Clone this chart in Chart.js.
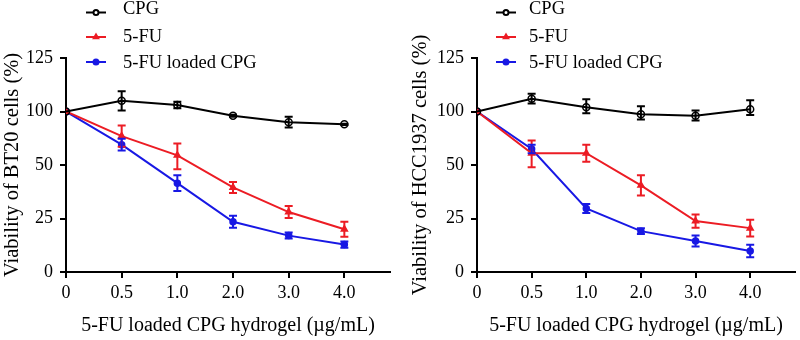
<!DOCTYPE html>
<html>
<head>
<meta charset="utf-8">
<script src="https://cdn.jsdelivr.net/npm/chart.js@4.4.0/dist/chart.umd.min.js"></script>
<style>
  body { margin: 0; background: #fff; }
  .wrap { display: flex; width: 800px; height: 340px; }
  .wrap canvas { display: block; }
</style>
</head>
<body>
<div class="wrap">
  <canvas id="bt20chart" width="400" height="340"></canvas>
  <canvas id="hccchart" width="400" height="340"></canvas>
</div>
<script>
// doses (µg/mL), plotted at equal spacing
const doses = ["0", "0.5", "1.0", "2.0", "3.0", "4.0"];
// y axis is broken: these ticks sit at equal distances
const yTicks = [0, 25, 50, 100, 125];

const seriesNames = ["CPG", "5-FU", "5-FU loaded CPG"];

// BT20
const bt20Cpg = [100, 105, 103, 96, 90, 88];
const bt20CpgErr = [0, 4.5, 1.5, 1, 5, 0.5];
const bt20Fu = [100, 77, 59, 39.5, 28, 20];
const bt20FuErr = [0, 10, 11, 2.6, 2.8, 3.5];
const bt20Loaded = [100, 69, 41.5, 23.5, 17, 12.8];
const bt20LoadedErr = [0, 5.5, 3.7, 2.8, 1.4, 1.5];

// HCC1937
const hccCpg = [100, 106, 102, 97.5, 96, 101];
const hccCpgErr = [0, 2.3, 3.7, 5, 4.5, 4.2];
const hccFu = [100, 61, 61, 40.5, 23.8, 20.5];
const hccFuErr = [0, 12, 8, 4.7, 3.1, 3.9];
const hccLoaded = [100, 65, 29.7, 19.1, 14.5, 9.8];
const hccLoadedErr = [0, 4, 2.1, 1.3, 2.6, 2.9];

const RED = "rgb(236,28,36)";
const BLUE = "rgb(24,24,228)";
const FONT = "'Liberation Serif', 'Times New Roman', serif";

Chart.defaults.font.family = FONT;
Chart.defaults.color = "#000";

// linear scale with a piecewise mapping so each yTicks step has the same height
class BrokenScale extends Chart.LinearScale {
    buildTicks() {
        return yTicks.map(v => ({ value: v }));
    }
    getPixelForValue(value) {
        const n = yTicks.length - 1;
        let i = 0;
        while (i < n - 1 && value > yTicks[i + 1]) i++;
        const f = (i + (value - yTicks[i]) / (yTicks[i + 1] - yTicks[i])) / n;
        return this.getPixelForDecimal(f);
    }
    getValueForPixel(pixel) {
        const n = yTicks.length - 1;
        const d = this.getDecimalForPixel(pixel) * n;
        const i = Math.min(n - 1, Math.max(0, Math.floor(d)));
        return yTicks[i] + (d - i) * (yTicks[i + 1] - yTicks[i]);
    }
}
BrokenScale.id = "broken";
BrokenScale.defaults = Chart.LinearScale.defaults;
Chart.register(BrokenScale);

const pointStyles = [
    { pointStyle: "circle", radius: 3.5, bg: "transparent" },
    { pointStyle: "triangle", radius: 3.5, bg: null },
    { pointStyle: "circle", radius: 3, bg: null }
];
const colors = ["#000", RED, BLUE];

const errorBars = {
    id: "errorBars",
    afterDatasetsDraw(chart) {
        const ctx = chart.ctx;
        const yScale = chart.scales.y;
        chart.data.datasets.forEach((ds, di) => {
            const meta = chart.getDatasetMeta(di);
            ctx.save();
            ctx.strokeStyle = ds.borderColor;
            ctx.lineWidth = 2;
            meta.data.forEach((pt, i) => {
                const e = ds.errors[i];
                if (!e) return;
                const v = ds.data[i].y;
                const top = yScale.getPixelForValue(v + e);
                const bot = yScale.getPixelForValue(v - e);
                ctx.beginPath();
                ctx.moveTo(pt.x, top); ctx.lineTo(pt.x, bot);
                ctx.moveTo(pt.x - 4, top); ctx.lineTo(pt.x + 4, top);
                ctx.moveTo(pt.x - 4, bot); ctx.lineTo(pt.x + 4, bot);
                ctx.stroke();
            });
            ctx.restore();
        });
    }
};

// legend drawn over the top of the plot, like the original figure
const overlayLegend = {
    id: "overlayLegend",
    afterDraw(chart, args, opts) {
        const ctx = chart.ctx;
        const lineY = [12.5, 37, 62];
        const textY = [14, 41.5, 68];
        ctx.save();
        ctx.font = "18.5px " + FONT;
        ctx.textBaseline = "alphabetic";
        chart.data.datasets.forEach((ds, i) => {
            ctx.strokeStyle = ds.borderColor;
            ctx.lineWidth = 2;
            ctx.beginPath();
            ctx.moveTo(opts.x, lineY[i]);
            ctx.lineTo(opts.x + 20, lineY[i]);
            ctx.stroke();
            ctx.fillStyle = i === 0 ? "#fff" : ds.borderColor;
            Chart.helpers.drawPoint(ctx, {
                pointStyle: pointStyles[i].pointStyle,
                radius: 2.5,
                rotation: 0,
                borderWidth: 1.5
            }, opts.x + 10, lineY[i]);
            ctx.fillStyle = "#000";
            ctx.fillText(ds.label, opts.textX, textY[i]);
        });
        ctx.restore();
    }
};

function makeDatasets(values, errors) {
    return values.map((vals, k) => ({
        label: seriesNames[k],
        data: vals.map((v, i) => ({ x: i, y: v })),
        errors: errors[k],
        borderColor: colors[k],
        backgroundColor: pointStyles[k].bg || colors[k],
        pointBorderColor: colors[k],
        pointStyle: pointStyles[k].pointStyle,
        pointRadius: pointStyles[k].radius,
        pointBorderWidth: 1.5,
        pointHoverRadius: pointStyles[k].radius,
        borderWidth: 2,
        fill: false,
        tension: 0
    }));
}

function makeChart(canvas, title, values, errors, opt) {
    return new Chart(canvas, {
        type: "line",
        data: { datasets: makeDatasets(values, errors) },
        options: {
            responsive: false,
            animation: false,
            devicePixelRatio: 1,
            layout: { padding: { top: 58, right: opt.padRight, left: 0, bottom: 0 } },
            plugins: {
                legend: { display: false },
                tooltip: { enabled: false },
                overlayLegend: { x: opt.legendX, textX: opt.textX }
            },
            scales: {
                x: {
                    type: "linear",
                    min: 0,
                    max: 5.82,
                    afterBuildTicks: axis => { axis.ticks = doses.map((d, i) => ({ value: i })); },
                    afterFit: axis => { axis.height = 68; },
                    ticks: {
                        callback: v => doses[v],
                        font: { size: 18 },
                        padding: 4,
                        maxRotation: 0,
                        autoSkip: false
                    },
                    grid: { drawOnChartArea: false, drawTicks: true, tickLength: 6, color: "#000", lineWidth: 2 },
                    border: { display: true, color: "#000", width: 2 },
                    title: {
                        display: true,
                        text: "5-FU loaded CPG hydrogel (µg/mL)",
                        font: { size: 20 },
                        padding: { top: 0, bottom: 2 }
                    }
                },
                y: {
                    type: "broken",
                    min: 0,
                    max: 125,
                    afterFit: axis => { axis.width = opt.yWidth; },
                    ticks: {
                        callback: v => String(v),
                        font: { size: 18 },
                        padding: 7,
                        autoSkip: false
                    },
                    grid: { drawOnChartArea: false, drawTicks: true, tickLength: 6, color: "#000", lineWidth: 2 },
                    border: { display: true, color: "#000", width: 2 },
                    title: {
                        display: true,
                        text: title,
                        font: { size: 20.5 },
                        padding: { top: opt.titlePad, bottom: 0 }
                    }
                }
            }
        },
        plugins: [errorBars, overlayLegend]
    });
}

const bt20Instance = makeChart(
    document.getElementById("bt20chart"),
    "Viability of BT20 cells (%)",
    [bt20Cpg, bt20Fu, bt20Loaded],
    [bt20CpgErr, bt20FuErr, bt20LoadedErr],
    { padRight: 10, yWidth: 66, legendX: 86, textX: 123, titlePad: 0 }
);

const hccInstance = makeChart(
    document.getElementById("hccchart"),
    "Viability of HCC1937 cells (%)",
    [hccCpg, hccFu, hccLoaded],
    [hccCpgErr, hccFuErr, hccLoadedErr],
    { padRight: 0, yWidth: 77, legendX: 96, textX: 129, titlePad: 8 }
);
</script>
</body>
</html>
